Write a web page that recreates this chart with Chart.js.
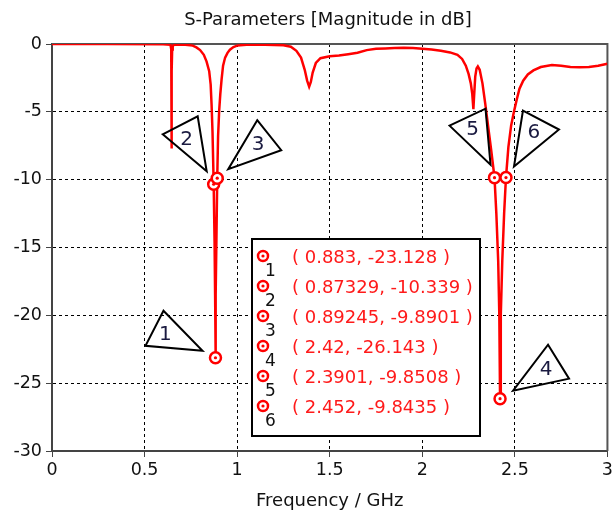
<!DOCTYPE html>
<html>
<head>
<meta charset="utf-8">
<script src="https://cdn.jsdelivr.net/npm/chart.js@4"></script>
<style>
  html, body { margin: 0; padding: 0; background: #fff; }
  #wrap { width: 616px; height: 518px; }
</style>
</head>
<body>
<div id="wrap"><canvas id="c" width="616" height="518"></canvas></div>
<script>
// ---- data ----
const chartTitle = 'S-Parameters [Magnitude in dB]';
const xAxisTitle = 'Frequency / GHz';
const xTicks = [0, 0.5, 1, 1.5, 2, 2.5, 3];
const yTicks = [0, -5, -10, -15, -20, -25, -30];

const freqGHz = [
  0.00, 0.30, 0.60, 0.640, 0.644, 0.6455, 0.647, 0.649, 0.652, 0.660,
  0.72, 0.76, 0.78, 0.80, 0.82, 0.835, 0.849, 0.857, 0.862, 0.867,
  0.87329, 0.878, 0.881, 0.883, 0.885, 0.888, 0.89245, 0.897, 0.903, 0.909,
  0.916, 0.924, 0.935, 0.948, 0.961, 0.98, 1.00, 1.05, 1.15, 1.25,
  1.29, 1.32, 1.345, 1.365, 1.378, 1.389, 1.398, 1.408, 1.425, 1.45,
  1.50, 1.55, 1.60, 1.65, 1.70, 1.75, 1.80, 1.85, 1.90, 1.95,
  2.00, 2.05, 2.10, 2.15, 2.19, 2.215, 2.235, 2.25, 2.262, 2.270,
  2.276, 2.280, 2.286, 2.293, 2.300, 2.310, 2.325, 2.340, 2.355, 2.372,
  2.3901, 2.400, 2.410, 2.416, 2.420, 2.424, 2.432, 2.442, 2.452, 2.465,
  2.480, 2.495, 2.510, 2.525, 2.545, 2.57, 2.60, 2.64, 2.70, 2.75,
  2.80, 2.85, 2.90, 2.95, 3.00
];
const s11dB = [
  0.00, 0.00, -0.02, -0.05, -0.4, -7.7, -2.0, -0.4, -0.15, -0.05,
  -0.05, -0.12, -0.25, -0.45, -0.8, -1.3, -2.0, -3.0, -4.5, -6.5,
  -10.339, -14.5, -18.5, -23.128, -18.5, -14.5, -9.8901, -6.8, -4.9, -3.7,
  -2.6, -1.6, -1.0, -0.65, -0.42, -0.22, -0.12, -0.05, -0.05, -0.1,
  -0.2, -0.5, -1.0, -1.9, -2.7, -3.15, -2.8, -2.1, -1.4, -1.05,
  -0.9, -0.85, -0.75, -0.65, -0.45, -0.35, -0.33, -0.3, -0.28, -0.3,
  -0.35, -0.4, -0.5, -0.62, -0.8, -1.1, -1.6, -2.2, -2.9, -3.7,
  -4.8, -3.8, -2.4, -1.8, -1.65, -1.9, -2.9, -4.4, -6.0, -7.8,
  -9.8508, -12.5, -16.0, -20.0, -26.143, -20.0, -16.0, -12.5, -9.8435, -7.6,
  -6.0, -5.0, -4.1, -3.3, -2.7, -2.25, -1.95, -1.7, -1.55, -1.6,
  -1.7, -1.72, -1.7, -1.6, -1.45
];

const markerNames = ['1', '2', '3', '4', '5', '6'];
const markerFreq = [0.883, 0.87329, 0.89245, 2.42, 2.3901, 2.452];
const markerDB = [-23.128, -10.339, -9.8901, -26.143, -9.8508, -9.8435];

// ---- styles / annotation geometry (pixel offsets from each marker) ----
const FONT = "'DejaVu Sans', 'Liberation Sans', sans-serif";
const pointerShapes = [
  { v: [[-52, -47], [-70, -12], [-13, -7]], t: [-50, -23] },
  { v: [[-51, -50], [-16, -68], [-7, -13]], t: [-27, -44] },
  { v: [[40, -58], [64, -28], [11, -9]], t: [41, -33] },
  { v: [[48, -54], [69, -20], [13, -8]], t: [46, -29] },
  { v: [[-45, -52], [-9, -69], [-4, -13]], t: [-22, -48] },
  { v: [[17, -67], [53, -48], [8, -11]], t: [28, -45] }
];

const curve = freqGHz.map((f, i) => ({ x: f, y: s11dB[i] }));
const markers = markerFreq.map((f, i) => ({ x: f, y: markerDB[i] }));

const decorPlugin = {
  id: 'decor',
  beforeDatasetsDraw(chart) {
    const ctx = chart.ctx;
    const ca = chart.chartArea;
    ctx.save();
    ctx.strokeStyle = '#555';
    ctx.lineWidth = 2;
    ctx.beginPath();
    ctx.moveTo(ca.left, ca.top); ctx.lineTo(ca.right, ca.top); ctx.lineTo(ca.right, ca.bottom);
    ctx.stroke();
    ctx.restore();
  },
  afterDraw(chart) {
    const ctx = chart.ctx;
    const xs = chart.scales.x, ys = chart.scales.y;
    const ca = chart.chartArea;
    ctx.save();
    ctx.fillStyle = '#111';
    ctx.textAlign = 'center';
    ctx.textBaseline = 'middle';
    ctx.font = '18px ' + FONT;
    ctx.fillText(chartTitle, 328, 20);
    ctx.fillText(xAxisTitle, (ca.left + ca.right) / 2, 501);

    ctx.lineWidth = 2;
    ctx.strokeStyle = '#000';
    ctx.lineJoin = 'miter';
    markers.forEach((m, i) => {
      const px = xs.getPixelForValue(m.x), py = ys.getPixelForValue(m.y);
      const s = pointerShapes[i];
      ctx.beginPath();
      ctx.moveTo(px + s.v[0][0], py + s.v[0][1]);
      ctx.lineTo(px + s.v[1][0], py + s.v[1][1]);
      ctx.lineTo(px + s.v[2][0], py + s.v[2][1]);
      ctx.closePath();
      ctx.stroke();
      ctx.fillStyle = '#1a1a40';
      ctx.font = '20px ' + FONT;
      ctx.fillText(markerNames[i], px + s.t[0], py + s.t[1]);
    });

    const bx = 252, by = 239, bw = 228, bh = 197;
    ctx.fillStyle = '#fff';
    ctx.fillRect(bx, by, bw, bh);
    ctx.strokeStyle = '#000';
    ctx.lineWidth = 2;
    ctx.strokeRect(bx, by, bw, bh);
    markers.forEach((m, i) => {
      const yc = 258 + 30 * i;
      ctx.beginPath();
      ctx.arc(263, yc - 2, 5, 0, Math.PI * 2);
      ctx.fillStyle = '#fff';
      ctx.fill();
      ctx.strokeStyle = '#ff0000';
      ctx.lineWidth = 2.5;
      ctx.stroke();
      ctx.beginPath();
      ctx.arc(263, yc - 2, 1.6, 0, Math.PI * 2);
      ctx.fillStyle = '#ff0000';
      ctx.fill();
      ctx.fillStyle = '#111';
      ctx.textAlign = 'left';
      ctx.font = '17px ' + FONT;
      ctx.fillText(markerNames[i], 265, yc + 14);
      ctx.fillStyle = '#ff1a1a';
      ctx.font = '18px ' + FONT;
      ctx.fillText('( ' + m.x + ', ' + m.y + ' )', 292, yc);
      ctx.textAlign = 'center';
    });
    ctx.restore();
  }
};

new Chart(document.getElementById('c'), {
  type: 'scatter',
  data: {
    datasets: [
      {
        data: markers, pointRadius: 1.6, pointBackgroundColor: '#ff0000',
        pointBorderWidth: 0, showLine: false
      },
      {
        data: markers, pointRadius: 5.5, pointBackgroundColor: '#ffffff',
        pointBorderColor: '#ff0000', pointBorderWidth: 2.5, showLine: false
      },
      {
        data: curve, showLine: true, borderColor: '#ff0000', borderWidth: 2.5,
        pointRadius: 0, tension: 0, fill: false
      }
    ]
  },
  options: {
    responsive: false,
    animation: false,
    events: [],
    layout: { padding: { top: 44, right: 8, left: 0, bottom: 0 } },
    plugins: { legend: { display: false }, tooltip: { enabled: false }, title: { display: false } },
    scales: {
      x: {
        type: 'linear', min: 0, max: 3,
        afterBuildTicks: s => { s.ticks = xTicks.map(v => ({ value: v })); },
        afterFit: s => { s.height = 67; },
        ticks: { color: '#111', font: { family: FONT, size: 17.5 }, padding: 3, maxRotation: 0,
                 callback: v => String(v) },
        grid: { color: '#000', lineWidth: 1, tickLength: 6, tickColor: '#444', tickWidth: 1 },
        border: { display: true, color: '#444', width: 2, dash: [3, 3] }
      },
      y: {
        type: 'linear', min: -30, max: 0,
        afterBuildTicks: s => { s.ticks = yTicks.map(v => ({ value: v })); },
        afterFit: s => { s.width = 52; },
        ticks: { color: '#111', font: { family: FONT, size: 17.5 }, padding: 4,
                 callback: v => String(v) },
        grid: { color: '#000', lineWidth: 1, tickLength: 6, tickColor: '#444', tickWidth: 1 },
        border: { display: true, color: '#444', width: 2, dash: [3, 3] }
      }
    }
  },
  plugins: [decorPlugin]
});
</script>
</body>
</html>
